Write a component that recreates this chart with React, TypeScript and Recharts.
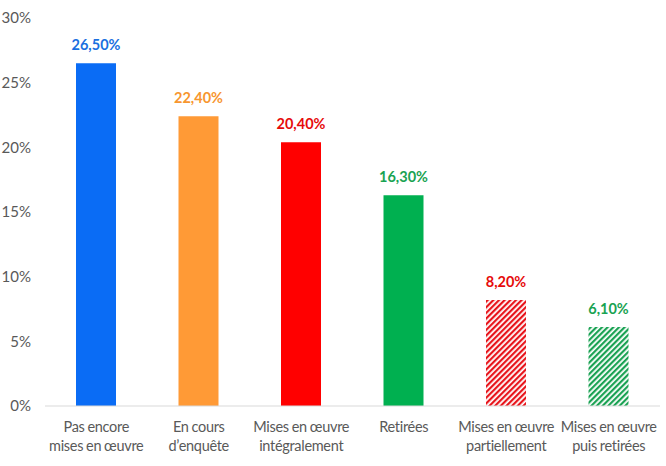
import { Bar, BarChart, Cell, LabelList, XAxis, YAxis } from 'recharts'

const CATEGORIES = [
  ['Pas encore', 'mises en œuvre'],
  ['En cours', 'd\u2019enquête'],
  ['Mises en œuvre', 'intégralement'],
  ['Retirées'],
  ['Mises en œuvre', 'partiellement'],
  ['Mises en œuvre', 'puis retirées'],
]
const VALUES = [26.5, 22.4, 20.4, 16.3, 8.2, 6.1]
const Y_TICKS = [0, 5, 10, 15, 20, 25, 30]

const BAR_FILLS = ['#0a6cf5', '#ff9a36', '#ff0000', '#00b050', 'url(#hatch-red)', 'url(#hatch-green)']
const LABEL_COLORS = ['#1a6fe0', '#f7962f', '#e60b0b', '#19a352', '#e60b0b', '#19a352']

const FONT = 'Lato, "Noto Sans", sans-serif'

const data = VALUES.map((value, i) => ({ key: i, value }))

function formatPercent(value: number): string {
  return `${value.toFixed(2).replace('.', ',')}%`
}

function CategoryTick(props: any) {
  const { x, y, payload } = props
  const lines = CATEGORIES[payload.value] ?? []
  return (
    <text
      x={x}
      y={y}
      textAnchor="middle"
      fill="#595959"
      fontSize={14.5}
      letterSpacing={-0.3}
      wordSpacing={-0.5}
      fontFamily={FONT}
    >
      {lines.map((line, i) => (
        <tspan key={i} x={x} dy={i === 0 ? 18 : 19}>
          {line}
        </tspan>
      ))}
    </text>
  )
}

function ValueLabel(props: any) {
  const { x, y, width, value, index } = props
  return (
    <text
      x={x + width / 2}
      y={y - 13}
      textAnchor="middle"
      fill={LABEL_COLORS[index]}
      fontSize={14.5}
      fontWeight={700}
      fontFamily={FONT}
    >
      {formatPercent(Number(value))}
    </text>
  )
}

export default function App() {
  return (
    <div style={{ width: 666, height: 466, background: '#fff' }}>
      <style>{'body{margin:0}'}</style>
      <BarChart width={666} height={466} data={data} margin={{ top: 18, right: 6, bottom: 0, left: 0 }}>
        <defs>
          <pattern id="hatch-red" width="4" height="4" patternUnits="userSpaceOnUse" patternTransform="rotate(45)">
            <rect width="4" height="4" fill="#ffffff" />
            <rect width="2.2" height="4" fill="#e8141b" />
          </pattern>
          <pattern id="hatch-green" width="4" height="4" patternUnits="userSpaceOnUse" patternTransform="rotate(45)">
            <rect width="4" height="4" fill="#ffffff" />
            <rect width="2.2" height="4" fill="#1aa253" />
          </pattern>
        </defs>
        <XAxis
          dataKey="key"
          height={60}
          axisLine={{ stroke: '#d9d9d9', strokeWidth: 1 }}
          tickLine={false}
          tick={<CategoryTick />}
          interval={0}
        />
        <YAxis
          domain={[0, 30]}
          ticks={Y_TICKS}
          axisLine={false}
          tickLine={false}
          tickSize={0}
          tickMargin={14}
          width={45}
          tick={{ fontSize: 15, fill: '#595959', fontFamily: FONT }}
          tickFormatter={v => `${v}%`}
        />
        <Bar dataKey="value" barSize={40} isAnimationActive={false}>
          {data.map((entry, i) => (
            <Cell key={entry.key} fill={BAR_FILLS[i]} />
          ))}
          <LabelList dataKey="value" content={<ValueLabel />} />
        </Bar>
      </BarChart>
    </div>
  )
}
